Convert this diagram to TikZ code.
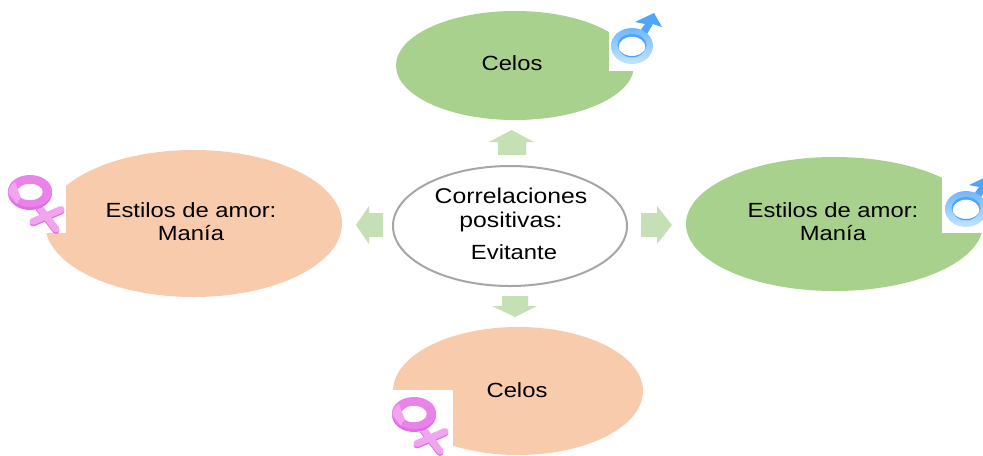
\documentclass[tikz,border=0pt]{standalone}
\usepackage{fontspec}
\setmainfont[FakeStretch=1.16]{Liberation Sans}
\usetikzlibrary{shapes.geometric}
\definecolor{ellgreen}{HTML}{A9D18E}
\definecolor{ellorange}{HTML}{F8CBAD}
\definecolor{arrowgreen}{HTML}{C5E0B4}
\definecolor{ringgray}{HTML}{A6A6A6}
\definecolor{maleA}{HTML}{4FA6F8}
\definecolor{maleB}{HTML}{C4E3FF}
\definecolor{maleC}{HTML}{6FB8FF}
\definecolor{femA}{HTML}{DE6FE4}
\definecolor{femB}{HTML}{F3A4F0}
\definecolor{femC}{HTML}{E983EA}
\tikzset{
  x=0.75pt,y=-0.75pt,
  bubble/.style={ellipse,inner sep=0pt,outer sep=0pt},
  greenbubble/.style={bubble,fill=ellgreen},
  orangebubble/.style={bubble,fill=ellorange},
  hubbubble/.style={bubble,fill=white,draw=ringgray,line width=1.5pt},
  flow/.style={fill=arrowgreen,draw=none},
  lbl/.style={font=\fontsize{15.4pt}{17.3pt}\selectfont,align=center,text=black,inner sep=0pt},
  hublbl/.style={lbl,font=\fontsize{16pt}{17.3pt}\selectfont},
  patch/.style={fill=white,draw=none},
  pics/malesym/.style={code={
    \fill[maleA,line join=round] (3,-24) -- (22,-33) -- (30,-19) -- (21,-22) -- (15,-12) -- (8,-15) -- (13,-22) -- cycle;
    \shade[even odd rule,top color=maleC,bottom color=maleB] (0,0) ellipse [x radius=21,y radius=18] (0,1) ellipse [x radius=13.5,y radius=10.5];
    \fill[maleA,even odd rule] (0,-1) ellipse [x radius=14.5,y radius=11] (0,1) ellipse [x radius=13.5,y radius=10.5];
  }},
  femarm/.style={line width=5.2pt,line cap=round},
  pics/femsym/.style={code={
    \draw[femarm,femA] (9,16.5) -- (26,38.5);
    \draw[femarm,femA] (3,31) -- (31,19);
    \draw[femarm,femB] (9,15) -- (26,37);
    \draw[femarm,femB] (3,29.5) -- (31,17.5);
    \fill[femA,even odd rule] (0,1) ellipse [x radius=22,y radius=17] (0,0) ellipse [x radius=13,y radius=8.5];
    \fill[femC,even odd rule] (0,-1) ellipse [x radius=22,y radius=16] (0,0) ellipse [x radius=13,y radius=8.5];
    \fill[femB] (-21.5,1) arc[start angle=180,end angle=225,x radius=22,y radius=16] -- (-9,6) arc[start angle=225,end angle=180,x radius=13,y radius=8.5] -- cycle;
  }}
}
\begin{document}
\begin{tikzpicture}
\useasboundingbox (0,0) rectangle (983,455);
\clip (0,0) rectangle (983,455);
\fill[white] (0,0) rectangle (983,455);

% bubbles
\node[greenbubble,minimum width=178.5pt,minimum height=81.75pt] (top) at (515,65.5) {};
\node[greenbubble,minimum width=222.75pt,minimum height=100.5pt] (right) at (834.5,224) {};
\node[orangebubble,minimum width=222.75pt,minimum height=110.25pt] (left) at (193.5,223.5) {};
\node[orangebubble,minimum width=187.5pt,minimum height=96pt] (bottom) at (518,391) {};
\node[hubbubble,minimum width=175.5pt,minimum height=90pt] (hub) at (510,226) {};

% white patches behind the symbols
\fill[patch] (609,20) rectangle (650,71);
\fill[patch] (942,177) rectangle (983,233);
\fill[patch] (30,185) rectangle (66,233);
\fill[patch] (392,390) rectangle (453,455);

% block arrows
\fill[flow] (498,155) -- (498,142) -- (489,142) -- (511.5,130) -- (534,142) -- (526,142) -- (526,155) -- cycle;
\fill[flow] (383,213) -- (369,213) -- (369,206) -- (356,225) -- (369,244) -- (369,237) -- (383,237) -- cycle;
\fill[flow] (641,213) -- (657,213) -- (657,206) -- (672,225) -- (657,244) -- (657,237) -- (641,237) -- cycle;
\fill[flow] (502,296) -- (528,296) -- (528,306) -- (537,306) -- (515,317) -- (492,306) -- (502,306) -- cycle;

% symbols
\pic at (632,46) {malesym};
\pic at (966,209) {malesym};
\pic at (30,192) {femsym};
\pic at (414,414) {femsym};

% labels
\node[lbl] (t1) at (512,63) {Celos};
\node[lbl] (t2) at (517,390) {Celos};
\node[lbl] (t3) at (191,222) {Estilos de amor:\\Manía};
\node[lbl] (t4) at (833,222) {Estilos de amor:\\Manía};
\node[hublbl] (t5) at (511,210) {Correlaciones\\positivas:};
\node[lbl] (t6) at (514,252) {Evitante};
\end{tikzpicture}
\end{document}
